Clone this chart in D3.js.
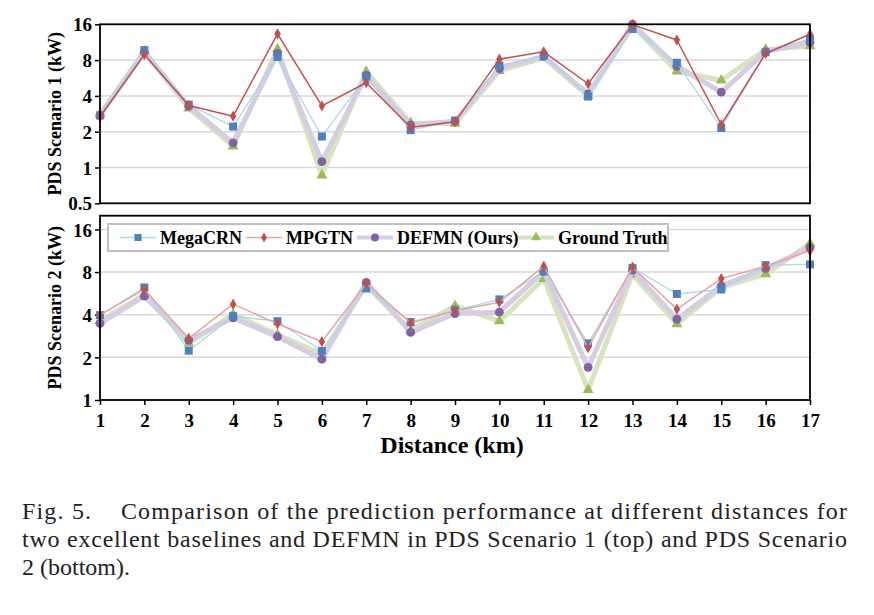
<!DOCTYPE html>
<html>
<head>
<meta charset="utf-8">
<script src="https://cdn.jsdelivr.net/npm/d3@7"></script>
<style>
  body { margin: 0; background: #fff; }
  svg { display: block; }
  .tick text { font-family: "Liberation Serif", "Times New Roman", serif; font-weight: bold; font-size: 19px; fill: #000; }
</style>
</head>
<body>
<script>
// distances (km)
var distances = d3.range(1, 18);

// PDS Scenario 1 (kW)
var s1MegaCRN = [2.74, 9.7, 3.38, 2.21, 8.5, 1.82, 5.8, 2.06, 2.48, 7.2, 8.75, 3.95, 14.6, 7.6, 2.15, 9.3, 12.1];
var s1MPGTN   = [2.67, 8.9, 3.32, 2.70, 13.3, 3.3, 5.16, 2.17, 2.42, 8.15, 9.4, 5.06, 15.9, 11.8, 2.3, 9.1, 13.2];
var s1DEFMN   = [2.75, 9.3, 3.28, 1.61, 9.1, 1.12, 5.94, 2.28, 2.45, 6.8, 8.6, 4.16, 16.0, 7.1, 4.3, 9.4, 11.3];
var s1Truth   = [2.8, 9.5, 3.15, 1.51, 9.9, 0.86, 6.4, 2.37, 2.34, 6.5, 8.36, 4.0, 15.6, 6.45, 5.4, 9.8, 10.5];

// PDS Scenario 2 (kW)
var s2MegaCRN = [3.97, 6.23, 2.23, 3.91, 3.6, 2.22, 6.13, 3.55, 4.3, 5.13, 8.1, 2.51, 8.57, 5.6, 6.03, 8.95, 9.06];
var s2MPGTN   = [3.97, 6.03, 2.72, 4.75, 3.45, 2.58, 6.65, 3.5, 4.26, 4.9, 8.8, 2.34, 8.66, 4.38, 7.2, 8.8, 11.3];
var s2DEFMN   = [3.47, 5.41, 2.65, 3.80, 2.8, 1.94, 6.76, 3.0, 4.08, 4.17, 8.07, 1.70, 8.24, 3.72, 6.4, 8.47, 11.9];
var s2Truth   = [3.6, 5.56, 2.51, 4.02, 2.89, 2.11, 6.46, 3.11, 4.62, 3.6, 7.16, 1.18, 7.7, 3.43, 6.23, 7.74, 12.7];

var seriesNames = ["MegaCRN", "MPGTN", "DEFMN (Ours)", "Ground Truth"];
var topTicks = [0.5, 1, 2, 4, 8, 16];
var bottomTicks = [1, 2, 4, 8, 16];

var W = 874, H = 615;
var serif = '"Liberation Serif", "Times New Roman", serif';

var svg = d3.select('body').append('svg')
  .attr('width', W).attr('height', H);

var x = d3.scaleLinear().domain([1, 17]).range([100, 810]);

// drawing style of each series, in the order they are stacked (bottom first)
var styles = [
  { name: seriesNames[3], line: '#d7e4bd', lw: 5, fill: '#9bbb59', sym: d3.symbolTriangle, size: 52 },
  { name: seriesNames[2], line: '#d6cce3', lw: 5, fill: '#8064a2', sym: d3.symbolCircle, size: 62 },
  { name: seriesNames[0], line: '#a9d9ea', lw: 1.3, fill: '#4f81bd', sym: d3.symbolSquare, size: 64 },
  { name: seriesNames[1], line: '#c0504d', lw: 1.5, fill: '#c0504d', sym: d3.symbolDiamond, size: 36 }
];

function drawPanel(top, bottom, domain, ticks, data, label, redLine, xTicks) {
  var y = d3.scaleLog().base(2).domain(domain).range([bottom, top]);
  var g = svg.append('g');

  // gridlines
  g.selectAll('line.grid')
    .data(ticks.filter(function (t) { return y(t) > top + 1 && y(t) < bottom - 1; }))
    .enter().append('line')
    .attr('x1', x(1)).attr('x2', x(17))
    .attr('y1', function (d) { return y(d); })
    .attr('y2', function (d) { return y(d); })
    .attr('stroke', '#d9d9d9').attr('stroke-width', 1.5);

  // y axis
  var ya = g.append('g').attr('transform', 'translate(' + x(1) + ',0)')
    .call(d3.axisLeft(y).tickValues(ticks).tickFormat(d3.format('')).tickSize(5).tickSizeOuter(0));
  ya.select('.domain').remove();
  ya.selectAll('.tick line').attr('stroke', '#000').attr('stroke-width', 1.5);
  ya.selectAll('.tick text').attr('x', -8).attr('dy', '0.35em');

  if (xTicks) {
    var xa = g.append('g').attr('transform', 'translate(0,' + bottom + ')')
      .call(d3.axisBottom(x).tickValues(distances).tickFormat(d3.format('d')).tickSize(5).tickSizeOuter(0));
    xa.select('.domain').remove();
    xa.selectAll('.tick line').attr('stroke', '#000').attr('stroke-width', 1.5);
    xa.selectAll('.tick text').attr('y', 14);
  }

  // series
  var line = d3.line()
    .x(function (d, i) { return x(distances[i]); })
    .y(function (d) { return y(d); });

  styles.forEach(function (s) {
    var vals = data[s.name];
    var lc = (s.name === 'MPGTN') ? redLine : s.line;
    g.append('path').datum(vals)
      .attr('d', line)
      .attr('fill', 'none')
      .attr('stroke', lc)
      .attr('stroke-width', s.lw)
      .attr('stroke-linejoin', 'round');
    g.selectAll(null).data(vals).enter().append('path')
      .attr('d', d3.symbol().type(s.sym).size(s.size))
      .attr('transform', function (d, i) { return 'translate(' + x(distances[i]) + ',' + y(d) + ')'; })
      .attr('fill', s.fill);
  });

  // frame
  g.append('rect')
    .attr('x', x(1)).attr('y', top)
    .attr('width', x(17) - x(1)).attr('height', bottom - top)
    .attr('fill', 'none').attr('stroke', '#000').attr('stroke-width', 1.8);

  // y label
  g.append('text')
    .attr('transform', 'translate(61,' + ((top + bottom) / 2) + ') rotate(-90)')
    .attr('text-anchor', 'middle')
    .style('font-family', serif).style('font-weight', 'bold').style('font-size', '18px')
    .text(label);

  return y;
}

var d1 = {}; d1[seriesNames[0]] = s1MegaCRN; d1[seriesNames[1]] = s1MPGTN; d1[seriesNames[2]] = s1DEFMN; d1[seriesNames[3]] = s1Truth;
var d2 = {}; d2[seriesNames[0]] = s2MegaCRN; d2[seriesNames[1]] = s2MPGTN; d2[seriesNames[2]] = s2DEFMN; d2[seriesNames[3]] = s2Truth;

drawPanel(24.3, 203.3, [0.5, 16], topTicks, d1, 'PDS Scenario 1 (kW)', '#c0504d', false);
drawPanel(215.7, 400, [1, 20], bottomTicks, d2, 'PDS Scenario 2 (kW)', '#e8a3a3', true);

// legend
var leg = svg.append('g');
leg.append('rect')
  .attr('x', 108).attr('y', 224).attr('width', 560).attr('height', 27)
  .attr('fill', '#fff').attr('stroke', '#bfbfbf').attr('stroke-width', 2);

var legX = [120, 246, 357, 518];
var legStyle = [styles[2], styles[3], styles[1], styles[0]];
legStyle.forEach(function (s, i) {
  var lx = legX[i];
  var lc = (s.name === 'MPGTN') ? '#e8a3a3' : s.line;
  leg.append('line')
    .attr('x1', lx).attr('x2', lx + 36).attr('y1', 237.5).attr('y2', 237.5)
    .attr('stroke', lc).attr('stroke-width', s.lw > 2 ? 4 : 1.3);
  leg.append('path')
    .attr('d', d3.symbol().type(s.sym).size(s.size * 0.8))
    .attr('transform', 'translate(' + (lx + 18) + ',237.5)')
    .attr('fill', s.fill);
  leg.append('text')
    .attr('x', lx + 40).attr('y', 243.5)
    .style('font-family', serif).style('font-weight', 'bold').style('font-size', '18px')
    .text(s.name);
});

// x title
svg.append('text')
  .attr('x', 452).attr('y', 453)
  .attr('text-anchor', 'middle')
  .style('font-family', serif).style('font-weight', 'bold').style('font-size', '24px')
  .text('Distance (km)');

// caption
var capLines = [
  ['Fig. 5.\u00a0\u00a0\u00a0\u00a0Comparison of the prediction performance at different distances for', true],
  ['two excellent baselines and DEFMN in PDS Scenario 1 (top) and PDS Scenario', true],
  ['2 (bottom).', false]
];
capLines.forEach(function (c, i) {
  var t = svg.append('text')
    .attr('x', 22).attr('y', 519 + i * 28)
    .style('font-family', serif).style('font-size', '24px')
    .attr('fill', '#222')
    .text(c[0]);
  if (c[1]) t.attr('textLength', 825).attr('lengthAdjust', 'spacing');
});
</script>
</body>
</html>
